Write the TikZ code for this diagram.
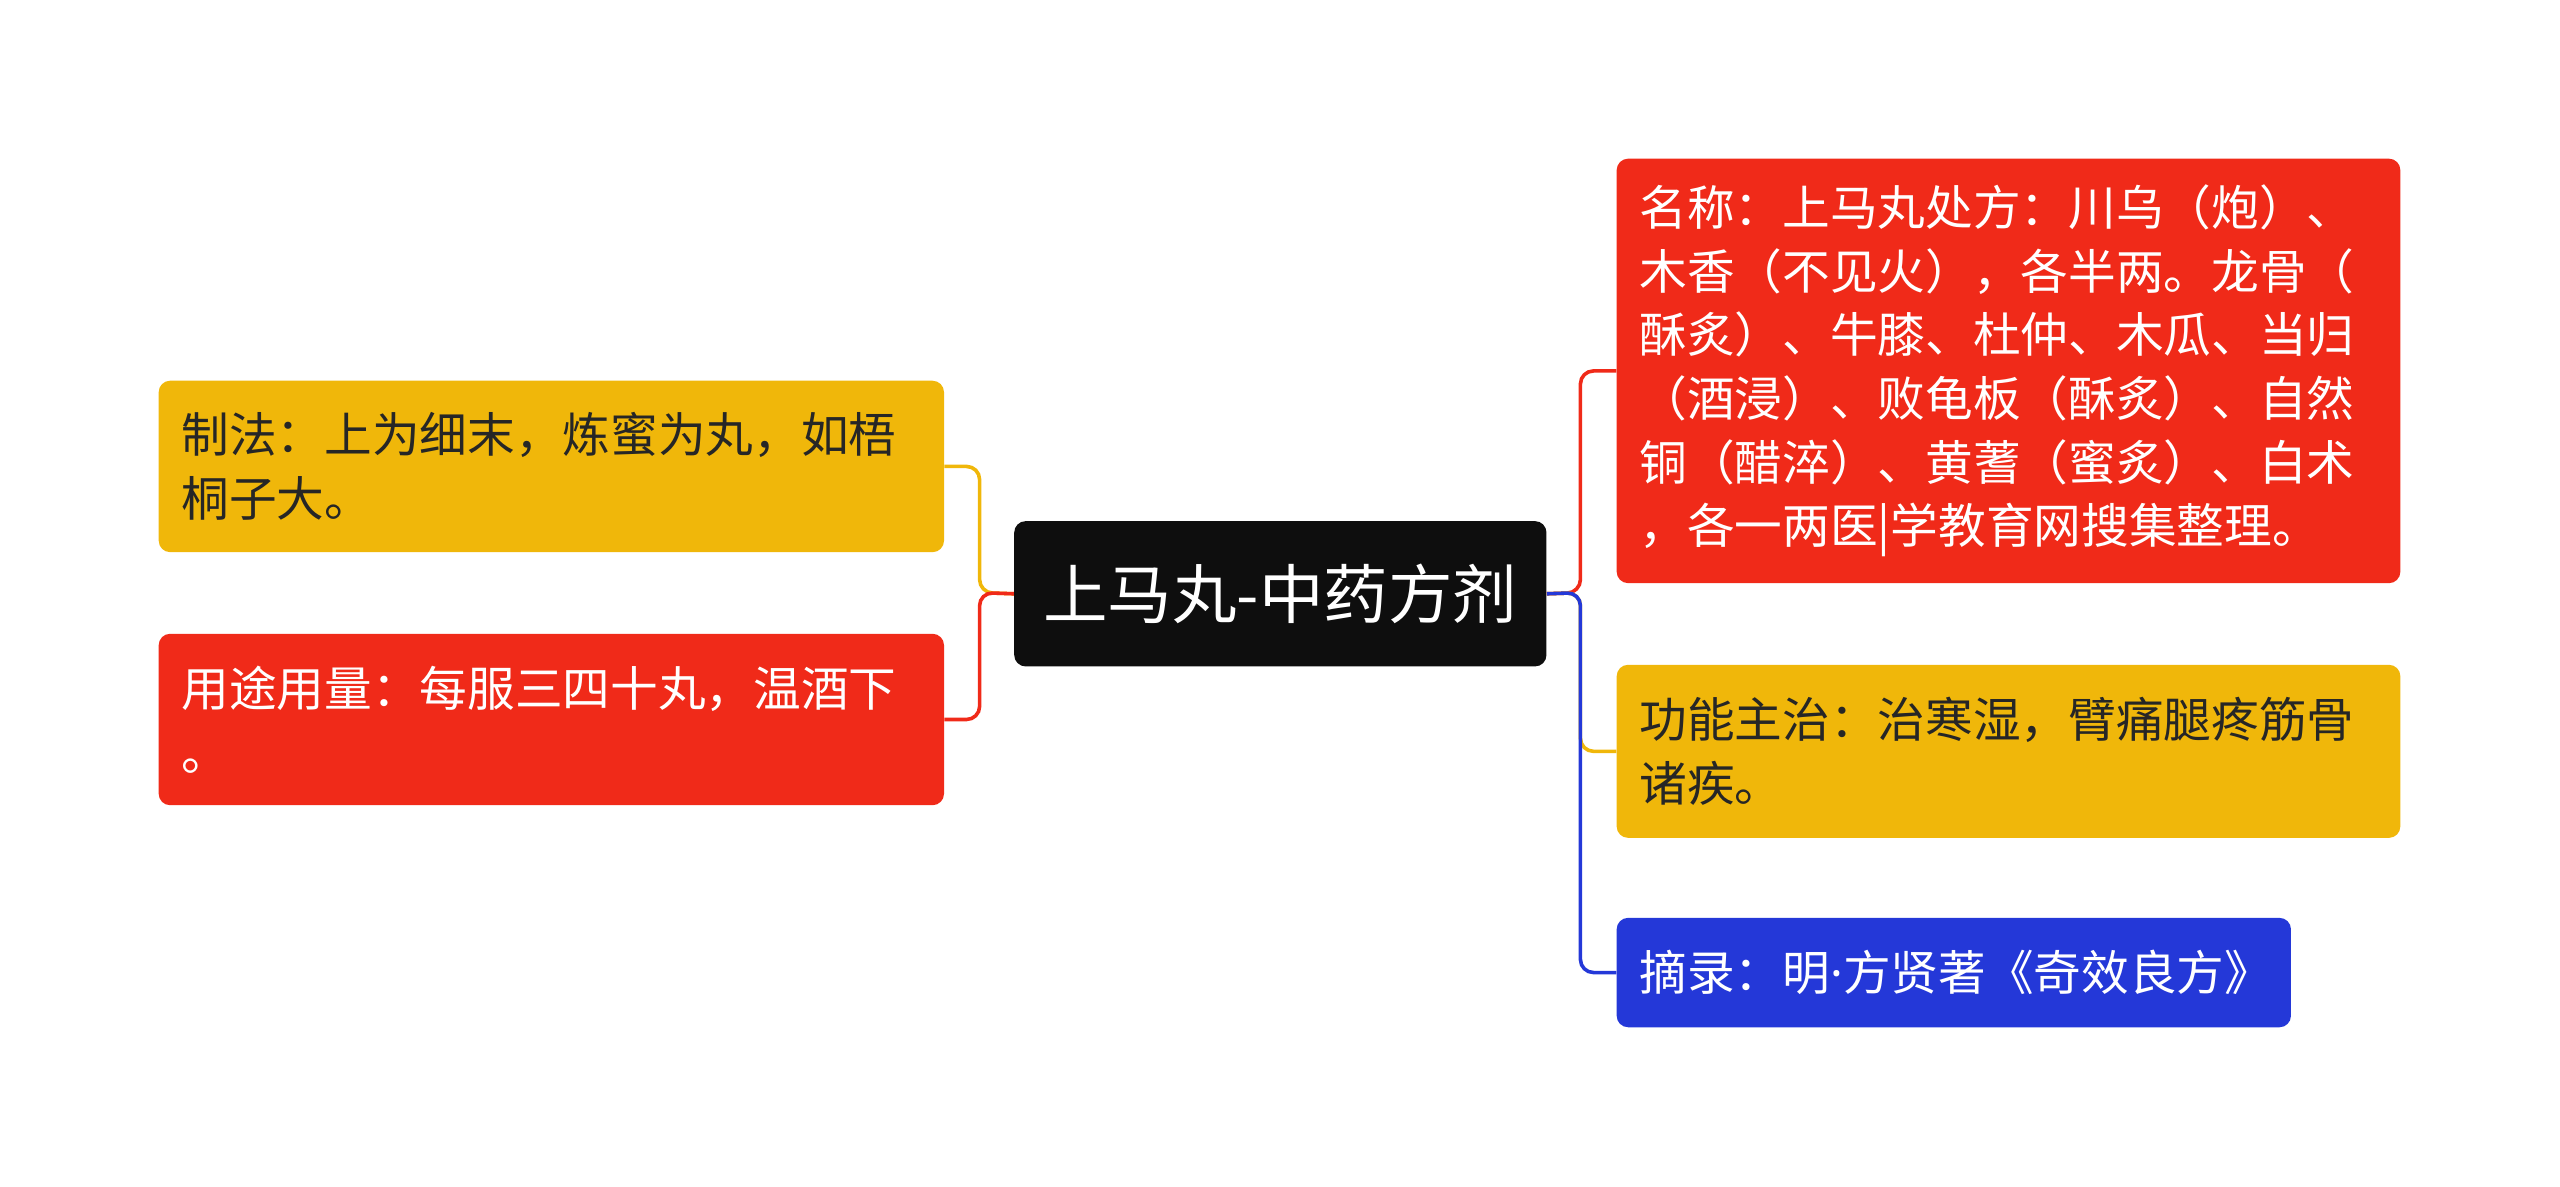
\documentclass[tikz,border=0pt]{standalone}
\usepackage{fontspec}
\newfontfamily\cjk{Noto Sans CJK SC}
\newfontfamily\latn{Noto Sans}
\definecolor{cyel}{HTML}{F0B70A}
\definecolor{cred}{HTML}{F02A19}
\definecolor{cblu}{HTML}{2438D8}
\definecolor{cblk}{HTML}{0E0E0E}
\begin{document}
\begin{tikzpicture}[x=1pt,y=1pt,
  box/.style={anchor=north west,rounded corners=7pt,inner xsep=14pt,inner ysep=0pt,align=left,
    font=\cjk\fontsize{29.2}{39}\selectfont,text=black!85},
  lnk/.style={line width=2.2pt,rounded corners=8pt}]
\useasboundingbox (0,0) rectangle (1568,727);
\node[box,fill=cblk,text=white,font=\cjk\fontsize{39.5}{44}\selectfont,minimum width=326pt,minimum height=89pt,align=center,anchor=north west] (c) at (621,408) {上马丸-中药方剂};
\node[box,fill=cyel,text width=453pt,minimum height=105pt] (l1) at (97,494) {制法：上为细末，炼蜜为丸，如梧\\桐子大。};
\node[box,fill=cred,text=white,text width=453pt,minimum height=105pt] (l2) at (97,339) {用途用量：每服三四十丸，温酒下\\。};
\node[box,fill=cred,text=white,text width=452pt,minimum height=260pt] (r1) at (990,630) {名称：上马丸处方：川乌（炮）、\\木香（不见火），各半两。龙骨（\\酥炙）、牛膝、杜仲、木瓜、当归\\（酒浸）、败龟板（酥炙）、自然\\铜（醋淬）、黄蓍（蜜炙）、白术\\，各一两医|学教育网搜集整理。};
\node[box,fill=cyel,text width=452pt,minimum height=106pt] (r2) at (990,320) {功能主治：治寒湿，臂痛腿疼筋骨\\诸疾。};
\node[box,fill=cblu,text=white,text width=385pt,minimum height=67pt] (r3) at (990,165) {摘录：明{\latn ·}方贤著《奇效良方》};
\draw[lnk,cyel] (c.west) -- (600,364) |- (l1.east);
\draw[lnk,cred] (c.west) -- (600,364) |- (l2.east);
\draw[lnk,cred] (c.east) -- (968,364) |- (r1.west);
\draw[lnk,cyel] (c.east) -- (968,364) |- (r2.west);
\draw[lnk,cblu] (c.east) -- (968,364) |- (r3.west);
\end{tikzpicture}
\end{document}
